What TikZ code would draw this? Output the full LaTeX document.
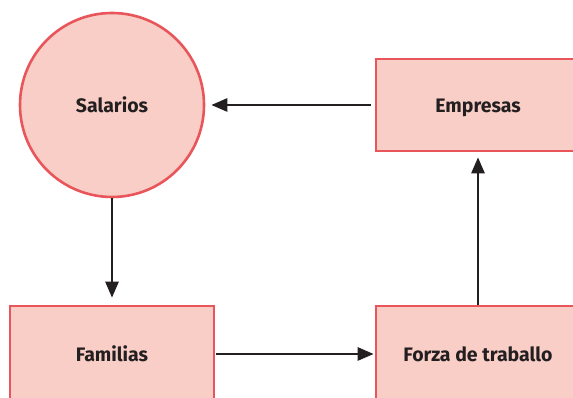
\documentclass[tikz,border=0pt]{standalone}
\usepackage{fontspec}
\setmainfont{Fira Sans}
\usetikzlibrary{arrows.meta, positioning}

\definecolor{boxfill}{HTML}{F9CEC7}
\definecolor{boxline}{HTML}{E8555B}
\definecolor{ink}{HTML}{231F20}

\begin{document}
\begin{tikzpicture}[>={Triangle[length=16pt, width=13pt]}, x=1pt, y=1pt,
    flowbox/.style={draw=boxline, fill=boxfill, line width=2.6pt, minimum width=204pt, minimum height=92pt, text=ink, text height=16pt, text depth=0pt, font=\bfseries\fontsize{19.5}{22}\selectfont},
    flowcircle/.style={circle, draw=boxline, fill=boxfill, line width=2.6pt, minimum size=184pt, text=ink, text height=16pt, text depth=0pt, font=\bfseries\fontsize{19.5}{22}\selectfont},
    flow/.style={->, line width=2.6pt, draw=ink}]
    \useasboundingbox (0,0) rectangle (573,398);
    \clip (0,0) rectangle (573,398);

    % Nodes
    \node[flowcircle] (salarios) at (112,293) {Salarios};
    \node[flowbox] (empresas) at (478,293) {Empresas};
    \node[flowbox, minimum height=96pt] (familias) at (112,44) {Familias};
    \node[flowbox, minimum height=96pt] (forza) at (478,44) {Forza de traballo};

    % Flows
    \draw[flow, shorten <=4pt, shorten >=6pt] (empresas) -- (salarios);
    \draw[flow, shorten >=7pt] (salarios) -- (familias);
    \draw[flow, shorten <=1pt, shorten >=1pt] (familias) -- (forza);
    \draw[flow, shorten >=5pt] (forza) -- (empresas);

\end{tikzpicture}
\end{document}
